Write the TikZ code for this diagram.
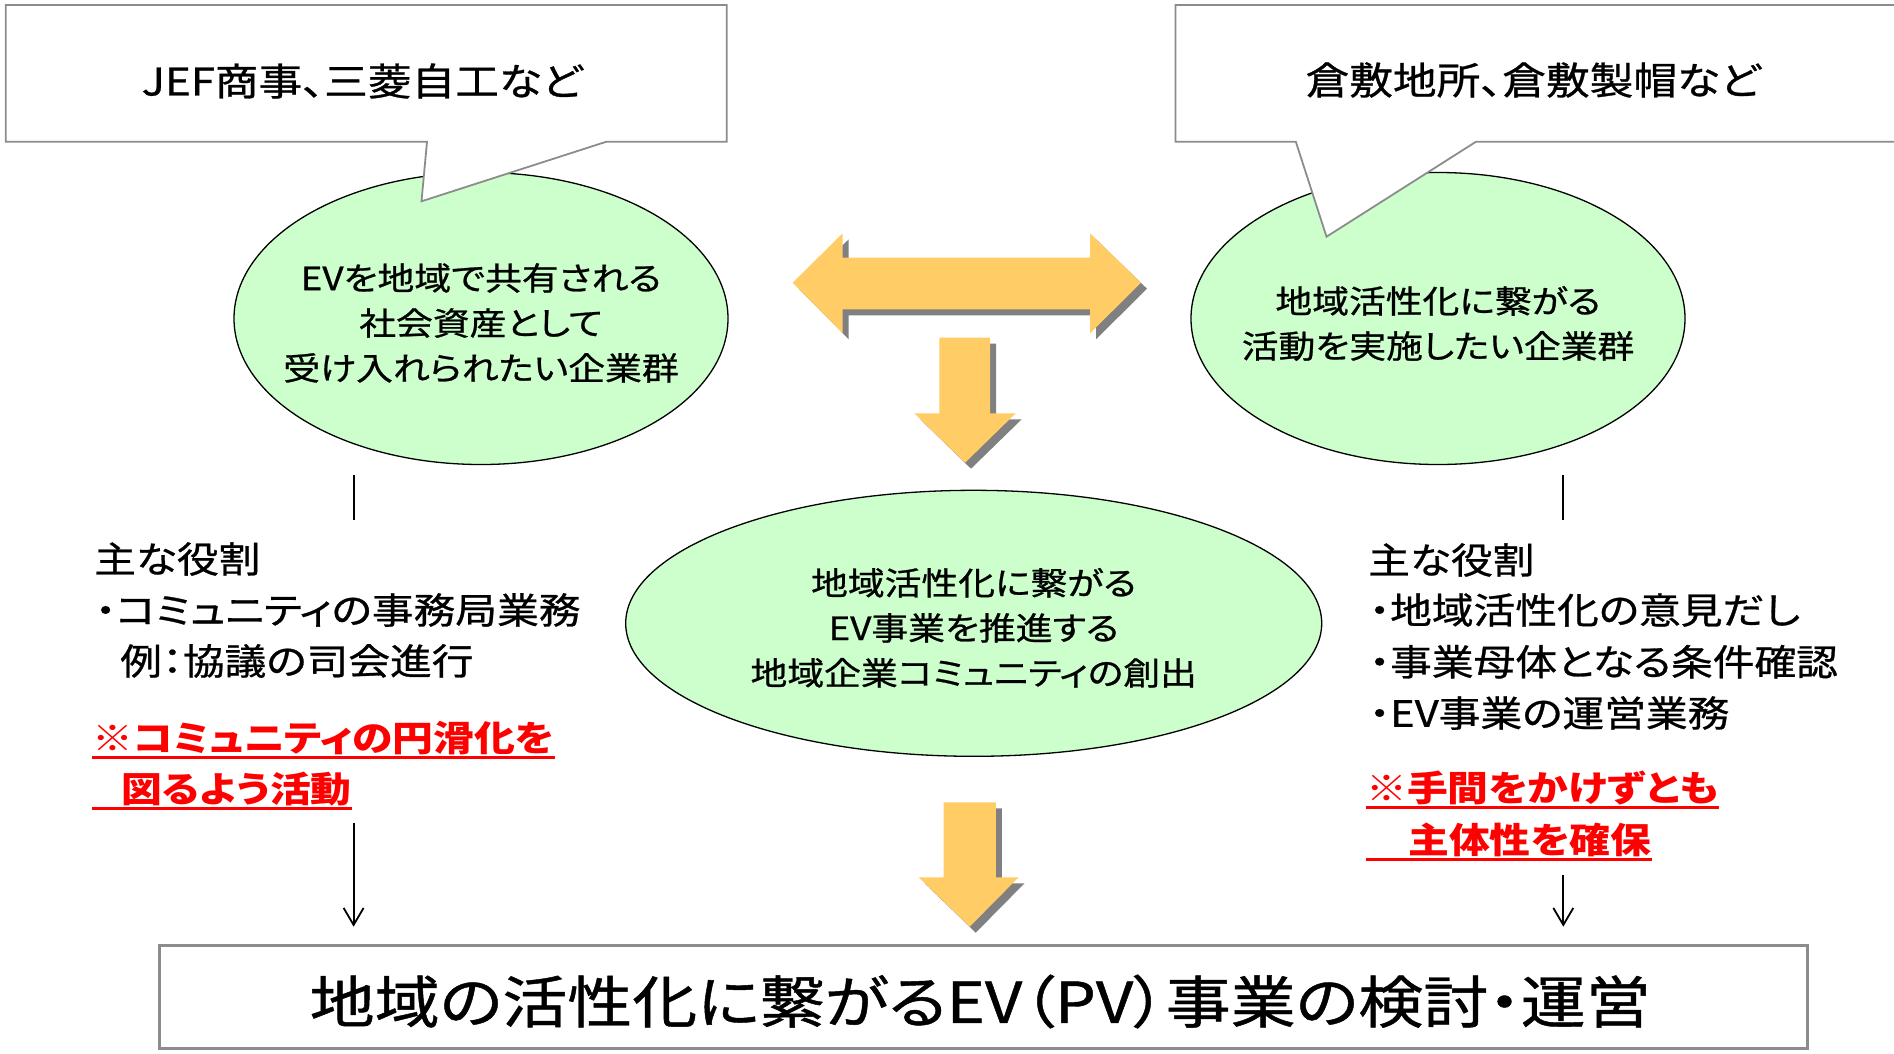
\documentclass[tikz,border=0pt]{standalone}
\usepackage{fontspec}
\setmainfont{Noto Sans CJK JP}[RawFeature=+palt, FakeStretch=1.15, UprightFeatures={FakeBold=0.8}]
\usetikzlibrary{shapes.geometric, arrows.meta, calc}
\definecolor{ellfill}{HTML}{CCFFCC}
\definecolor{arrfill}{HTML}{FFCC66}
\definecolor{shadowgray}{HTML}{808080}
\definecolor{boxgray}{HTML}{8C8C8C}
\definecolor{notered}{HTML}{FF0000}
\begin{document}
\begin{tikzpicture}[x=1pt, y=-1pt,
  calloutbox/.style={draw=boxgray, line width=1.8pt, fill=white, line join=miter},
  groupell/.style={ellipse, draw=black, line width=1.3pt, fill=ellfill, inner sep=0pt},
  elltext/.style={inner sep=0pt, align=center, font=\fontsize{32}{45}\selectfont},
  topttext/.style={inner sep=0pt, font=\fontsize{38}{45}\selectfont},
  sidetext/.style={inner sep=0pt, anchor=west, font=\fontsize{36.3}{51}\selectfont},
  redtext/.style={sidetext, text=notered, font=\fontsize{35.5}{51}\selectfont\bfseries},
  uline/.style={draw=notered, line width=3pt},
  conn/.style={draw=black, line width=1.8pt},
  arrshadow/.style={fill=shadowgray, shift={(6,6)}},
  arrbody/.style={fill=arrfill},
  goalbox/.style={draw=boxgray, line width=2.5pt, fill=white, inner sep=0pt},
  goaltext/.style={inner sep=0pt, font=\fontsize{56.5}{64}\selectfont}
]
\useasboundingbox (0,0) rectangle (1894,1053);
\clip (0,0) rectangle (1894,1053);

% ellipses (groups)
\node[groupell, minimum width=494pt, minimum height=292pt] (le) at (481,318.5) {};
\node[groupell, minimum width=494pt, minimum height=292pt] (re) at (1438,318.5) {};
\node[groupell, minimum width=696pt, minimum height=266pt] (ce) at (973.7,623.3) {};

\node[elltext] (lt) at ($(le.center)+(0,4.5)$) {EVを地域で共有される\\社会資産として\\受け入れられたい企業群};
\node[elltext] (rt) at ($(re.center)+(0,5)$) {地域活性化に繋がる\\活動を実施したい企業群};
\node[elltext] (ct) at ($(ce.center)+(0,4.5)$) {地域活性化に繋がる\\EV事業を推進する\\地域企業コミュニティの創出};

% callouts
\path[calloutbox] (5.7,5) -- (726.8,5) -- (726.8,141.7) -- (606.4,141.7) -- (421.5,201.3)
  -- (427,141.7) -- (5.7,141.7) -- cycle;
\path[calloutbox] (1175.4,5) -- (1910,5) -- (1910,141.7) -- (1476,141.7) -- (1326.5,236.7)
  -- (1295.8,141.7) -- (1175.4,141.7) -- cycle;
\node[topttext] (ltop) at (362,81) {JEF商事、三菱自工など};
\node[topttext] (rtop) at (1533,80) {倉敷地所、倉敷製帽など};

% block arrows
\foreach \s in {arrshadow, arrbody} {
  \path[\s] (792.7,282.7) -- (842.7,233.3) -- (842.7,257.7) -- (1090,257.7) -- (1090,233.3)
    -- (1141,282.7) -- (1090,333.3) -- (1090,309.3) -- (842.7,309.3) -- (842.7,333.3) -- cycle;
  \path[\s] (939.3,337.7) -- (990,337.7) -- (990,413.3) -- (1015.7,413.3) -- (965,462.7)
    -- (914.3,413.3) -- (939.3,413.3) -- cycle;
  \path[\s] (943.7,802.3) -- (995.8,802.3) -- (995.8,877.3) -- (1018.5,877.3) -- (969.7,926.7)
    -- (918.7,877.3) -- (943.7,877.3) -- cycle;
}

% left roles
\node[sidetext] (lr0) at (94,559) {主な役割};
\node[sidetext] (lr1) at (95,610) {・コミュニティの事務局業務};
\node[sidetext] (lr2) at (120,661) {例：協議の司会進行};
\node[redtext] (ln1) at (92,738) {※コミュニティの円滑化を};
\node[redtext] (ln2) at (121,789) {図るよう活動};
\draw[uline] ($(ln1.south west)+(0,2)$) -- ($(ln1.south east)+(0,2)$);
\draw[uline] ($(ln1.west |- ln2.south)+(0,2)$) -- ($(ln2.south east)+(0,2)$);

% right roles
\node[sidetext] (rr0) at (1368,560) {主な役割};
\node[sidetext] (rr1) at (1369,610) {・地域活性化の意見だし};
\node[sidetext] (rr2) at (1369,661.7) {・事業母体となる条件確認};
\node[sidetext] (rr3) at (1369,713) {・EV事業の運営業務};
\node[redtext] (rn1) at (1366,788) {※手間をかけずとも};
\node[redtext] (rn2) at (1408,840) {主体性を確保};
\draw[uline] ($(rn1.south west)+(0,2)$) -- ($(rn1.south east)+(0,2)$);
\draw[uline] ($(rn1.west |- rn2.south)+(0,2)$) -- ($(rn2.south east)+(0,2)$);

% thin connectors
\coordinate (la1) at (353.6,475);
\coordinate (la2) at (353.6,520);
\coordinate (la3) at (353.6,822.7);
\coordinate (la4) at (353.6,926.7);
\coordinate (ra1) at (1563.3,475);
\coordinate (ra2) at (1563.3,520);
\coordinate (ra3) at (1563.3,875);
\coordinate (ra4) at (1563.3,926.7);
\draw[conn] (la1) -- (la2);
\draw[conn] (ra1) -- (ra2);
\draw[conn, -{Straight Barb[length=17pt,width=20pt]}] (la3) -- (la4);
\draw[conn, -{Straight Barb[length=17pt,width=20pt]}] (ra3) -- (ra4);

% goal box
\node[goalbox, minimum width=1648pt, minimum height=103pt, anchor=north west] (goal) at (158,944) {};
\node[goaltext] (goalt) at (980.2,1001.5) {地域の活性化に繋がるEV（PV）事業の検討・運営};
\end{tikzpicture}
\end{document}
